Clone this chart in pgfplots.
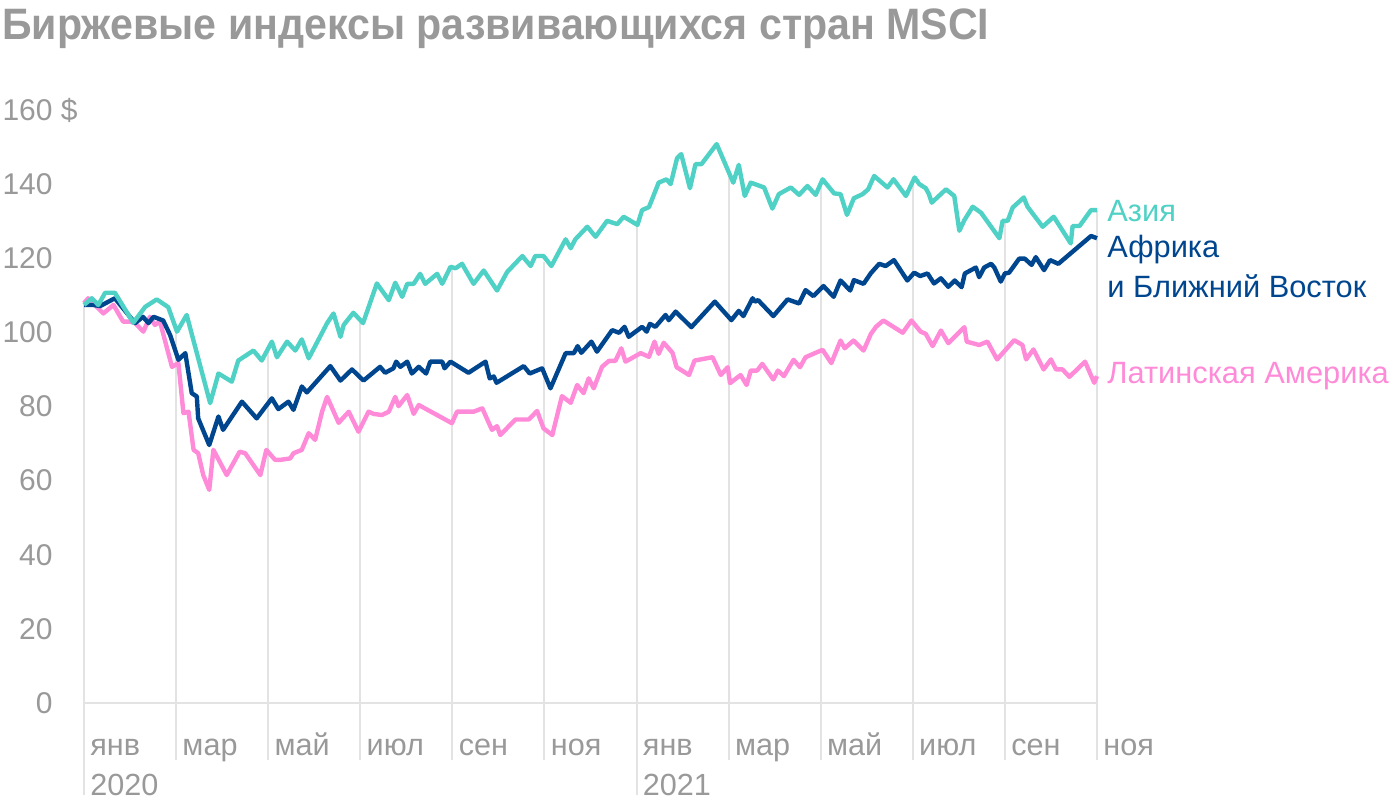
\documentclass[border=0pt]{standalone}
\usepackage{fontspec}
\setmainfont{Liberation Sans}
\usepackage{graphicx}
\usepackage{pgfplots}
\pgfplotsset{compat=1.18}
\definecolor{asia}{HTML}{4FD1C5}
\definecolor{afr}{HTML}{00468F}
\definecolor{latam}{HTML}{FF8AD8}
\definecolor{txt}{HTML}{999999}
\definecolor{gridc}{HTML}{E3E3E3}
\begin{document}
\begin{tikzpicture}
\useasboundingbox (-42pt,-50.5pt) rectangle (658pt,351.5pt);
\node[anchor=base west, inner sep=0pt, text=txt, font=\bfseries\fontsize{22}{26}\selectfont]
  at (-41pt,331.5pt) {\scalebox{0.935}[1]{Биржевые индексы развивающихся стран MSCI}};
\begin{axis}[
  at={(0,0)}, anchor=south west,
  scale only axis, width=506.5pt, height=296.5pt,
  xmin=0, xmax=22, ymin=0, ymax=160,
  clip=false,
  axis line style={draw=none},
  tick style={draw=none},
  ytick={0,20,...,160},
  yticklabels={0,20,40,60,80,100,120,140,160\rlap{ \$}},
  yticklabel style={anchor=east, inner sep=0pt, xshift=-15.5pt, text=txt, font=\fontsize{15}{18}\selectfont},
  xtick={0,2,...,22},
  xticklabels={янв,мар,май,июл,сен,ноя,янв,мар,май,июл,сен,ноя},
  xticklabel style={anchor=base west, inner sep=0pt, xshift=3pt, yshift=-26pt, text=txt, font=\fontsize{15.3}{18}\selectfont},
  every axis plot/.append style={line width=2.2pt, line join=round},
]
% vertical guides up to the Asia line
\draw[gridc, line width=1pt] (axis cs:0,-24.8) -- (axis cs:0,107.4);
\draw[gridc, line width=1pt] (axis cs:2,-15.4) -- (axis cs:2,100.2);
\draw[gridc, line width=1pt] (axis cs:4,-15.4) -- (axis cs:4,95.5);
\draw[gridc, line width=1pt] (axis cs:6,-15.4) -- (axis cs:6,102.6);
\draw[gridc, line width=1pt] (axis cs:8,-15.4) -- (axis cs:8,117.4);
\draw[gridc, line width=1pt] (axis cs:10,-15.4) -- (axis cs:10,119);
\draw[gridc, line width=1pt] (axis cs:12,-24.8) -- (axis cs:12,129.2);
\draw[gridc, line width=1pt] (axis cs:14,-15.4) -- (axis cs:14,143);
\draw[gridc, line width=1pt] (axis cs:16,-15.4) -- (axis cs:16,140.7);
\draw[gridc, line width=1pt] (axis cs:18,-15.4) -- (axis cs:18,141.5);
\draw[gridc, line width=1pt] (axis cs:20,-15.4) -- (axis cs:20,130);
\draw[gridc, line width=1pt] (axis cs:22,-15.4) -- (axis cs:22,133);
\draw[gridc, line width=1pt] (axis cs:0,0) -- (axis cs:22,0);

% Латинская Америка
\addplot[latam] coordinates {
(0.00,107.9) (0.09,109.2) (0.42,105.1) (0.64,107.4) (0.85,102.9) (1.00,102.9)
(1.11,102.5) (1.29,100.2) (1.43,104.2) (1.54,102.0) (1.65,102.9) (1.91,90.7)
(2.05,91.7) (2.16,78.2) (2.27,78.6) (2.38,68.3) (2.48,67.4) (2.59,61.5)
(2.72,57.5) (2.81,68.3) (3.10,61.5) (3.38,67.8) (3.50,67.4) (3.83,61.5)
(3.96,68.3) (4.15,65.6) (4.26,65.6) (4.48,66.0) (4.55,67.4) (4.73,68.3)
(4.88,72.8) (5.02,71.0) (5.17,78.6) (5.28,82.6) (5.53,75.6) (5.75,78.6)
(5.96,73.2) (6.18,78.6) (6.29,78.0) (6.47,77.7) (6.62,78.6) (6.76,82.6)
(6.83,80.1) (7.02,83.1) (7.16,78.0) (7.27,80.4) (7.99,75.5) (8.10,78.6)
(8.46,78.6) (8.65,79.5) (8.86,73.7) (8.97,74.7) (9.04,72.3) (9.37,76.5)
(9.66,76.5) (9.84,78.8) (9.98,74.1) (10.17,72.3) (10.38,82.8) (10.57,81.0)
(10.71,85.8) (10.85,83.6) (10.96,87.6) (11.07,84.9) (11.25,90.7) (11.40,92.3)
(11.54,92.3) (11.67,95.7) (11.76,92.1) (12.09,94.4) (12.27,93.4) (12.39,97.5)
(12.48,94.2) (12.59,97.2) (12.78,94.5) (12.87,90.6) (13.14,88.5) (13.26,92.4)
(13.65,93.3) (13.83,88.5) (13.98,90.6) (14.03,86.3) (14.26,88.5) (14.39,85.8)
(14.48,89.7) (14.62,89.7) (14.73,91.5) (14.97,87.3) (15.07,89.7) (15.20,88.2)
(15.41,92.6) (15.55,90.6) (15.67,93.3) (16.04,95.3) (16.23,91.7) (16.43,97.8)
(16.52,95.7) (16.71,97.8) (16.93,95.1) (17.09,99.6) (17.20,101.5) (17.36,103.2)
(17.78,99.9) (17.97,103.2) (18.17,100.2) (18.28,99.6) (18.43,96.3) (18.61,100.5)
(18.77,97.1) (19.12,101.4) (19.17,97.5) (19.44,96.6) (19.62,97.5) (19.83,92.7)
(20.20,97.9) (20.38,96.6) (20.46,92.7) (20.62,95.4) (20.84,90.0) (21.00,92.7)
(21.11,90.0) (21.25,90.0) (21.40,88.0) (21.74,92.1) (21.94,86.4) (22.00,88.2)
};

% Африка и Ближний Восток
\addplot[afr] coordinates {
(0.00,107.4) (0.20,107.4) (0.35,107.1) (0.67,109.2) (1.11,102.5) (1.28,104.2)
(1.40,102.5) (1.51,104.2) (1.72,103.2) (1.87,99.3) (2.05,92.6) (2.20,94.4)
(2.34,83.6) (2.45,82.7) (2.48,76.8) (2.72,69.6) (2.92,77.3) (3.02,73.7)
(3.43,81.3) (3.75,76.8) (4.08,82.2) (4.22,79.3) (4.44,81.3) (4.55,79.1)
(4.73,85.4) (4.84,83.8) (5.35,90.9) (5.57,87.0) (5.82,90.0) (6.07,87.0)
(6.43,90.7) (6.54,89.1) (6.72,90.3) (6.78,92.1) (6.87,90.7) (7.02,92.1)
(7.12,88.9) (7.27,90.7) (7.43,88.9) (7.52,92.1) (7.78,92.1) (7.83,90.3)
(7.96,92.1) (8.35,89.1) (8.72,92.1) (8.81,87.6) (8.90,88.1) (8.96,86.4)
(9.55,90.9) (9.68,88.9) (9.95,90.3) (10.13,84.9) (10.46,94.4) (10.64,94.4)
(10.72,96.3) (10.80,94.5) (11.02,97.5) (11.14,94.8) (11.47,100.6) (11.62,99.9)
(11.74,101.5) (11.83,98.8) (12.12,101.5) (12.22,100.2) (12.29,102.3) (12.41,101.5)
(12.63,104.7) (12.70,103.3) (12.85,105.6) (13.19,101.4) (13.70,108.3) (14.06,103.3)
(14.22,105.8) (14.32,104.4) (14.52,109.2) (14.57,108.3) (14.64,108.7) (14.97,104.4)
(15.28,108.9) (15.53,107.8) (15.67,111.4) (15.84,109.8) (16.06,112.5) (16.28,109.6)
(16.43,114.0) (16.64,111.3) (16.72,114.1) (16.93,113.1) (17.09,116.0) (17.27,118.5)
(17.41,117.9) (17.59,119.5) (17.88,114.0) (18.03,116.1) (18.16,115.2) (18.32,115.9)
(18.46,113.2) (18.61,114.6) (18.77,112.3) (18.91,114.0) (19.06,112.2) (19.13,115.9)
(19.37,117.5) (19.44,114.9) (19.55,117.5) (19.70,118.5) (19.77,117.5) (19.91,113.7)
(20.00,115.9) (20.09,116.1) (20.31,119.9) (20.43,119.9) (20.58,118.2) (20.67,120.3)
(20.85,116.8) (20.98,119.5) (21.16,118.5) (21.87,126.0) (22.00,125.4)
};

% Азия
\addplot[asia] coordinates {
(0.00,107.4) (0.17,109.2) (0.31,107.4) (0.46,110.7) (0.67,110.7) (1.07,102.6)
(1.33,106.9) (1.58,108.9) (1.83,106.8) (2.02,100.2) (2.23,104.7) (2.74,80.9)
(2.92,88.9) (3.21,86.7) (3.35,92.4) (3.68,95.1) (3.86,92.4) (4.08,97.5)
(4.19,93.3) (4.41,97.5) (4.59,95.1) (4.73,98.1) (4.88,93.0) (5.28,102.5)
(5.42,105.1) (5.57,98.8) (5.64,102.0) (5.85,105.3) (6.06,102.5) (6.36,113.2)
(6.62,108.7) (6.76,113.4) (6.91,109.6) (7.02,113.1) (7.16,113.1) (7.30,115.8)
(7.41,113.1) (7.67,115.8) (7.78,113.1) (7.96,117.7) (8.07,117.3) (8.21,118.5)
(8.46,113.1) (8.68,116.7) (8.97,111.3) (9.19,116.3) (9.52,120.6) (9.70,117.9)
(9.80,120.6) (9.98,120.6) (10.15,117.9) (10.46,125.1) (10.57,122.7) (10.67,125.1)
(10.93,128.5) (11.11,125.8) (11.36,130.1) (11.58,129.2) (11.72,131.2) (12.02,129.0)
(12.12,133.0) (12.27,133.8) (12.48,140.4) (12.65,141.3) (12.74,140.0) (12.88,147.0)
(12.97,148.1) (13.16,138.9) (13.28,145.4) (13.41,145.4) (13.74,150.8) (14.10,140.4)
(14.22,145.2) (14.35,136.8) (14.48,140.4) (14.77,139.1) (14.95,133.4) (15.09,137.3)
(15.35,139.1) (15.53,137.1) (15.71,139.5) (15.89,137.1) (16.04,141.3) (16.29,137.5)
(16.43,137.3) (16.57,131.7) (16.72,136.2) (16.91,137.3) (17.03,138.6) (17.16,142.2)
(17.45,139.1) (17.58,141.3) (17.85,136.8) (18.04,141.8) (18.14,140.0) (18.28,138.9)
(18.35,137.3) (18.41,135.0) (18.72,138.6) (18.90,136.8) (19.01,127.4) (19.12,130.3)
(19.30,133.9) (19.48,132.3) (19.88,125.4) (19.95,130.1) (20.06,130.1) (20.17,133.7)
(20.41,136.4) (20.49,133.9) (20.82,128.5) (21.06,131.2) (21.43,124.0) (21.47,128.7)
(21.62,128.7) (21.87,133.0) (22.00,133.0)
};

% годы
\node[anchor=base west, inner sep=0pt, xshift=3pt, yshift=-46pt, text=txt, font=\fontsize{15.3}{18}\selectfont] at (axis cs:0,0) {2020};
\node[anchor=base west, inner sep=0pt, xshift=3pt, yshift=-46pt, text=txt, font=\fontsize{15.3}{18}\selectfont] at (axis cs:12,0) {2021};

% подписи рядов
\node[anchor=base west, inner sep=0pt, xshift=5pt, text=asia, font=\fontsize{15.4}{18}\selectfont] at (axis cs:22,129.8) {Азия};
\node[anchor=base west, inner sep=0pt, xshift=5pt, text=afr, font=\fontsize{15.4}{18}\selectfont] at (axis cs:22,120.1) {Африка};
\node[anchor=base west, inner sep=0pt, xshift=5pt, text=afr, font=\fontsize{15.4}{18}\selectfont] at (axis cs:22,109.3) {и Ближний Восток};
\node[anchor=base west, inner sep=0pt, xshift=5pt, text=latam, font=\fontsize{15.4}{18}\selectfont] at (axis cs:22,86.3) {Латинская Америка};
\end{axis}
\end{tikzpicture}
\end{document}
